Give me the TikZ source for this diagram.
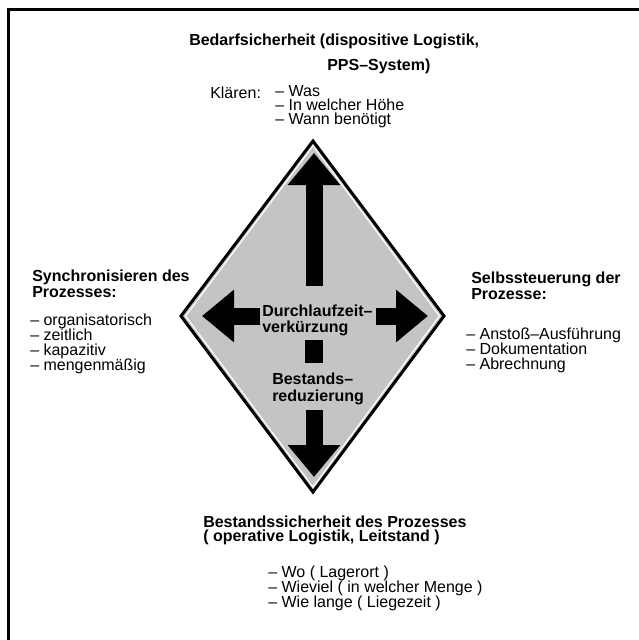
\documentclass[tikz,border=0pt]{standalone}
\usepackage{fontspec}
\setmainfont{Liberation Sans}
\definecolor{diamondFill}{HTML}{C4C4C4}
\usepackage{tikz}
\usetikzlibrary{calc, arrows.meta}
\tikzset{
  plaintext/.style={inner sep=0pt, anchor=west, align=left, font=\fontsize{12}{11.25}\selectfont},
  boldtext/.style={plaintext, font=\fontsize{12}{12}\selectfont\bfseries},
  blockarrow/.style={line width=12.75pt, -{Triangle[width=38pt,length=24pt]}},
}
\begin{document}
\begin{tikzpicture}[x=0.75pt, y=-0.75pt]
  \useasboundingbox (0,0) rectangle (639,640);
  \draw[line width=2.25pt] (8,640) -- (8,9) -- (639,9);

  % diamond
  \coordinate (dtop) at (313,141);
  \coordinate (dright) at (444,316);
  \coordinate (dbottom) at (313,492);
  \coordinate (dleft) at (181,316);
  \coordinate (dcenter) at (313,316);
  \filldraw[fill=diamondFill, line width=2.25pt] (dtop) -- (dright) -- (dbottom) -- (dleft) -- cycle;
  \draw[white, line width=0.9pt] ($(dcenter)!0.972!(dtop)$) -- ($(dcenter)!0.965!(dright)$)
    -- ($(dcenter)!0.972!(dbottom)$) -- ($(dcenter)!0.965!(dleft)$) -- cycle;

  % arrows
  \coordinate (upstart) at (314,286);
  \coordinate (uptip) at (314,153);
  \coordinate (leftstart) at (260,316);
  \coordinate (lefttip) at (202,316);
  \coordinate (rightstart) at (376,316);
  \coordinate (righttip) at (428,316);
  \coordinate (downstart) at (314,410);
  \coordinate (downtip) at (314,477);
  \draw[blockarrow] (upstart) -- (uptip);
  \draw[blockarrow] (leftstart) -- (lefttip);
  \draw[blockarrow] (rightstart) -- (righttip);
  \draw[blockarrow] (downstart) -- (downtip);
  \fill (305,340) rectangle (323,363);

  \node[boldtext] (durch) at (262,320) {Durchlaufzeit--\\verkürzung};
  \node[boldtext, font=\fontsize{12}{12.75}\selectfont\bfseries] (bestred) at (272,389) {Bestands--\\reduzierung};

  % top
  \node[boldtext] (bedarf) at (189,41) {Bedarfsicherheit (dispositive Logistik,};
  \node[boldtext] (pps) at (327,66) {PPS--System)};
  \node[plaintext] (klaeren) at (210,93) {Klären:};
  \node[plaintext, font=\fontsize{12}{10.5}\selectfont] (klist) at (275,107) {-- Was\\-- In welcher Höhe\\-- Wann benötigt};

  % left
  \node[boldtext] (synchead) at (32,284) {Synchronisieren des\\Prozesses:};
  \node[plaintext] (synclist) at (30,344) {-- organisatorisch\\-- zeitlich\\-- kapazitiv\\-- mengenmäßig};

  % right
  \node[boldtext] (selbsthead) at (471,286) {Selbssteuerung der\\Prozesse:};
  \node[plaintext] (selbstlist) at (466,350) {-- Anstoß--Ausführung\\-- Dokumentation\\-- Abrechnung};

  % bottom
  \node[boldtext, font=\fontsize{12}{10.5}\selectfont\bfseries] (besthead) at (203,530) {Bestandssicherheit des Prozesses\\( operative Logistik, Leitstand )};
  \node[plaintext] (bestlist) at (268,588) {-- Wo ( Lagerort )\\-- Wieviel ( in welcher Menge )\\-- Wie lange ( Liegezeit )};
\end{tikzpicture}
\end{document}
